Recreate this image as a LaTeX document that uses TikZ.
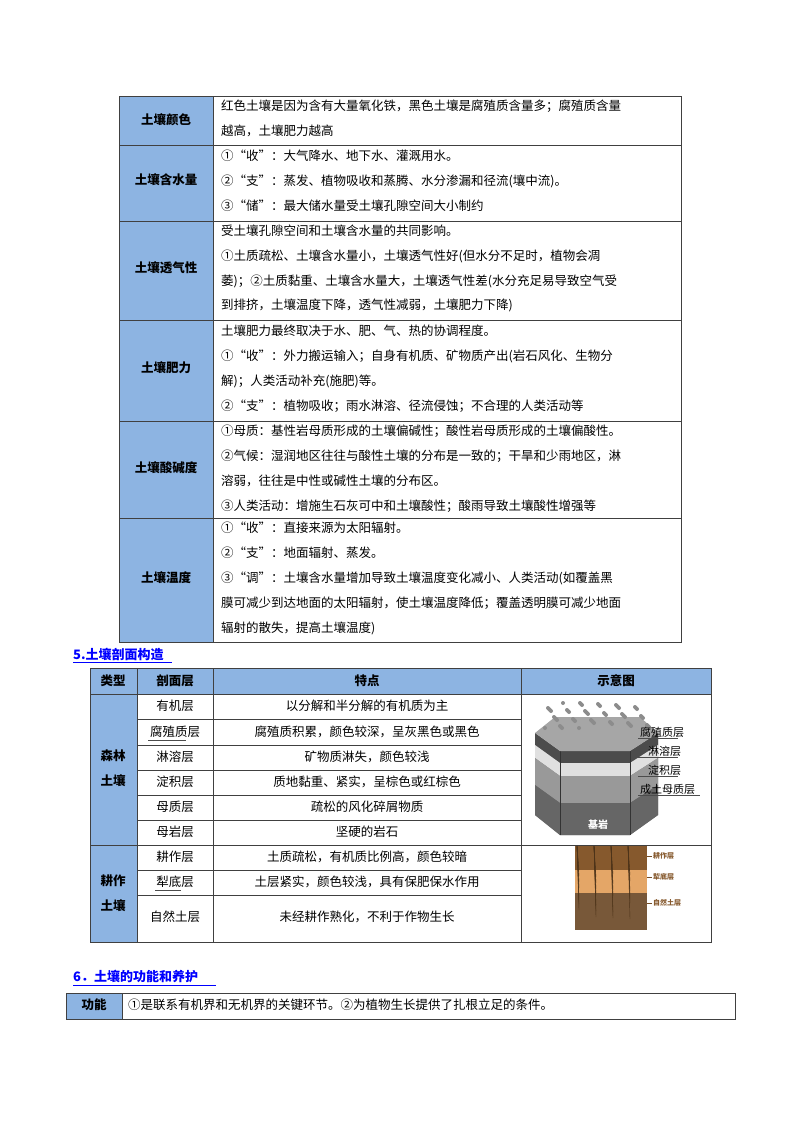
\documentclass[tikz,border=0pt]{standalone}
\usepackage{fontspec}
\setmainfont{Noto Sans CJK SC}
\begin{document}
\begin{tikzpicture}[x=1pt,y=-1pt,
  t/.style={anchor=west,inner sep=0,font=\fontsize{12.5}{14}\selectfont},
  c/.style={anchor=center,inner sep=0,font=\fontsize{12.5}{14}\selectfont},
  h/.style={anchor=center,inner sep=0,font=\fontsize{12.5}{14}\selectfont\bfseries},
  sec/.style={anchor=west,inner sep=0,text=blue,font=\fontsize{13}{14}\selectfont\bfseries},
  grid/.style={draw=black!75,line width=0.6pt}]
\definecolor{hb}{RGB}{141,180,226}
\useasboundingbox (0,0) rectangle (800,1132);
\fill[white] (0,0) rectangle (800,1132);
% ---- table 1
\fill[hb] (119,96) rectangle (213,642);
\draw[grid] (119,96) rectangle (681,642);
\draw[grid] (213,96) -- (213,642);
\foreach \y in {145,221,320,421,518} \draw[grid] (119,\y) -- (681,\y);
\node[h] (a1) at (166,120) {土壤颜色};
\node[h] (a2) at (166,180) {土壤含水量};
\node[h] (a3) at (166,268) {土壤透气性};
\node[h] (a4) at (166,368) {土壤肥力};
\node[h] (a5) at (166,468) {土壤酸碱度};
\node[h] (a6) at (166,578) {土壤温度};
\node[t] (r11) at (221,106) {红色土壤是因为含有大量氧化铁，黑色土壤是腐殖质含量多；腐殖质含量};
\node[t] (r12) at (221,131) {越高，土壤肥力越高};
\node[t] (r21) at (221,156) {①“收”：大气降水、地下水、灌溉用水。};
\node[t] (r22) at (221,181) {②“支”：蒸发、植物吸收和蒸腾、水分渗漏和径流(壤中流)。};
\node[t] (r23) at (221,206) {③“储”：最大储水量受土壤孔隙空间大小制约};
\node[t] (r31) at (221,231) {受土壤孔隙空间和土壤含水量的共同影响。};
\node[t] (r32) at (221,256) {①土质疏松、土壤含水量小，土壤透气性好(但水分不足时，植物会凋};
\node[t] (r33) at (221,281) {萎)；②土质黏重、土壤含水量大，土壤透气性差(水分充足易导致空气受};
\node[t] (r34) at (221,305) {到排挤，土壤温度下降，透气性减弱，土壤肥力下降)};
\node[t] (r41) at (221,331) {土壤肥力最终取决于水、肥、气、热的协调程度。};
\node[t] (r42) at (221,356) {①“收”：外力搬运输入；自身有机质、矿物质产出(岩石风化、生物分};
\node[t] (r43) at (221,381) {解)；人类活动补充(施肥)等。};
\node[t] (r44) at (221,406) {②“支”：植物吸收；雨水淋溶、径流侵蚀；不合理的人类活动等};
\node[t] (r51) at (221,431) {①母质：基性岩母质形成的土壤偏碱性；酸性岩母质形成的土壤偏酸性。};
\node[t] (r52) at (221,456) {②气候：湿润地区往往与酸性土壤的分布是一致的；干旱和少雨地区，淋};
\node[t] (r53) at (221,481) {溶弱，往往是中性或碱性土壤的分布区。};
\node[t] (r54) at (221,506) {③人类活动：增施生石灰可中和土壤酸性；酸雨导致土壤酸性增强等};
\node[t] (r61) at (221,528) {①“收”：直接来源为太阳辐射。};
\node[t] (r62) at (221,553) {②“支”：地面辐射、蒸发。};
\node[t] (r63) at (221,578) {③“调”：土壤含水量增加导致土壤温度变化减小、人类活动(如覆盖黑};
\node[t] (r64) at (221,603) {膜可减少到达地面的太阳辐射，使土壤温度降低；覆盖透明膜可减少地面};
\node[t] (r65) at (221,628) {辐射的散失，提高土壤温度)};
% ---- section 5
\node[sec] (s5) at (73,654) {5.土壤剖面构造};
\draw[blue,line width=0.8pt] (73,662) -- (172,662);
\fill[hb] (90,668) rectangle (711,694);
\fill[hb] (90,694) rectangle (137,942);
\draw[grid] (90,668) rectangle (711,942);
\foreach \x in {137,213,521} \draw[grid] (\x,668) -- (\x,942);
\draw[grid] (90,694) -- (711,694);
\draw[grid] (90,845) -- (711,845);
\foreach \y in {719,745,770,795,820} \draw[grid] (137,\y) -- (521,\y);
\foreach \y in {870,895} \draw[grid] (137,\y) -- (521,\y);
\node[h] (hd1) at (113,681) {类型};
\node[h] (hd2) at (175,681) {剖面层};
\node[h] (hd3) at (367,681) {特点};
\node[h] (hd4) at (616,681) {示意图};
\node[h,align=center,font=\fontsize{12.5}{25}\selectfont\bfseries] (g1) at (113,768) {森林\\土壤};
\node[h,align=center,font=\fontsize{12.5}{25}\selectfont\bfseries] (g2) at (113,893) {耕作\\土壤};
\foreach \n/\y/\a/\b in {1/706/有机层/以分解和半分解的有机质为主,
  2/732/腐殖质层/腐殖质积累，颜色较深，呈灰黑色或黑色,
  3/757/淋溶层/矿物质淋失，颜色较浅,
  4/782/淀积层/质地黏重、紧实，呈棕色或红棕色,
  5/807/母质层/疏松的风化碎屑物质,
  6/832/母岩层/坚硬的岩石,
  7/857/耕作层/土质疏松，有机质比例高，颜色较暗,
  8/882/犁底层/土层紧实，颜色较浅，具有保肥保水作用,
  9/917/自然土层/未经耕作熟化，不利于作物生长}
  {\node[c] (p\n) at (175,\y) {\a}; \node[c] (f\n) at (367,\y) {\b};}
\draw[black!70] (148,740) -- (186,740);
\draw[black!70] (155,890) -- (181,890);
% ---- octagon prism illustration
\fill[black!55] (535,733) -- (560,751) -- (630,751) -- (658,733) -- (658,815) -- (630,835) -- (560,835) -- (535,815) -- cycle;
\fill[black!70] (535,733) -- (560,751) -- (630,751) -- (658,733) -- (658,745) -- (630,763) -- (560,763) -- (535,745) -- cycle;
\fill[black!12] (535,745) -- (560,763) -- (630,763) -- (658,745) -- (658,758) -- (630,776) -- (560,776) -- (535,758) -- cycle;
\fill[black!40] (535,758) -- (560,776) -- (630,776) -- (658,758) -- (658,785) -- (630,803) -- (560,803) -- (535,785) -- cycle;
\fill[black!60] (535,785) -- (560,803) -- (630,803) -- (658,785) -- (658,815) -- (630,835) -- (560,835) -- (535,815) -- cycle;
\draw[black!80] (560,751) -- (560,835) (630,751) -- (630,835);
\fill[black!35] (535,733) -- (555,717) -- (640,717) -- (658,733) -- (630,751) -- (560,751) -- cycle;
\foreach \i in {0,...,60} \fill[black!45] ({545+mod(\i*37,105)},{728-mod(\i*23,26)}) circle (2);
\node[c,text=white,font=\fontsize{10}{12}\selectfont\bfseries] (jy) at (598,825) {基岩};
\draw[black!70] (638,738) -- (678,738) (638,757) -- (678,757) (638,776) -- (678,776) (638,795) -- (700,795);
\node[t,font=\fontsize{11}{12}\selectfont] (l1) at (640,732) {腐殖质层};
\node[t,font=\fontsize{11}{12}\selectfont] (l2) at (648,751) {淋溶层};
\node[t,font=\fontsize{11}{12}\selectfont] (l3) at (648,770) {淀积层};
\node[t,font=\fontsize{11}{12}\selectfont] (l4) at (640,789) {成土母质层};
% ---- soil photo
\fill[brown!70!black] (575,846) rectangle (647,870);
\fill[brown!60!orange!70] (575,870) rectangle (647,893);
\fill[brown!55!black!90] (575,893) rectangle (647,930);
\foreach \i in {0,...,25} \draw[brown!40!black] ({577+mod(\i*17,68)},846) -- ({579+mod(\i*17,68)},{870+mod(\i*7,50)});
\foreach \n/\y/\s in {k1/856/耕作层,k2/877/犁底层,k3/903/自然土层}
  {\draw[brown!60!black] (647,\y) -- (652,\y); \node[t,text=brown!70!black,font=\fontsize{7}{8}\selectfont\bfseries] (\n) at (653,\y) {\s};}
% ---- section 6
\node[sec] (s6) at (73,976) {6．土壤的功能和养护};
\draw[blue,line width=0.8pt] (73,985) -- (216,985);
\fill[hb] (66,993) rectangle (122,1019);
\draw[grid] (66,993) rectangle (735,1019);
\draw[grid] (122,993) -- (122,1019);
\node[h] (gn) at (94,1005) {功能};
\node[t] (gt) at (128,1005) {①是联系有机界和无机界的关键环节。②为植物生长提供了扎根立足的条件。};
\end{tikzpicture}
\end{document}
